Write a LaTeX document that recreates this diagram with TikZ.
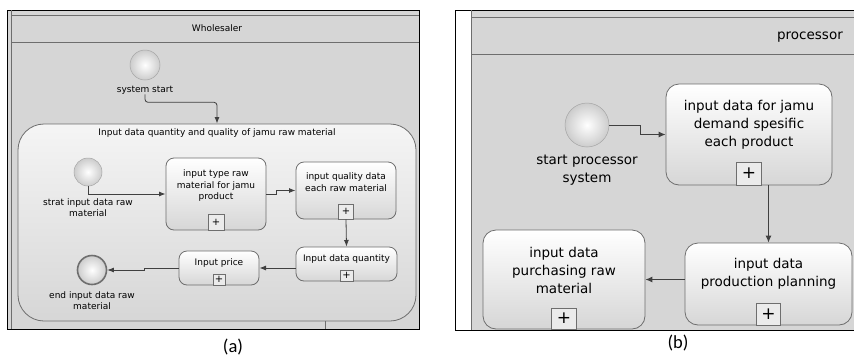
\documentclass[tikz,border=0pt]{standalone}
\usepackage{fontspec}
\setmainfont{DejaVu Sans}
\newfontfamily\capfont{Carlito}
\usetikzlibrary{arrows.meta, positioning, calc}
\definecolor{lanegray}{HTML}{D6D6D6}
\definecolor{edgegray}{HTML}{6E6E6E}

\begin{document}
\begin{tikzpicture}[x=1pt, y=-1pt, >=Latex,
  lanebox/.style={fill=lanegray, draw=black, line width=0.9pt},
  laneline/.style={draw=edgegray, line width=0.8pt},
  taska/.style={draw=edgegray, line width=0.8pt, rounded corners=8pt,
    top color=white, bottom color=black!16, inner sep=0pt},
  taskb/.style={taska, rounded corners=13pt},
  txta/.style={align=center, inner sep=0pt, font=\fontsize{9}{11.5}\selectfont},
  txtb/.style={align=center, inner sep=0pt, font=\fontsize{13.5}{18}\selectfont},
  plusa/.style={draw=edgegray, fill=white!92!black, line width=0.7pt, inner sep=0pt,
    anchor=south, font=\fontsize{10}{10}\selectfont},
  plusb/.style={plusa, font=\fontsize{17}{17}\selectfont},
  evt/.style={circle, draw=black!35, line width=0.5pt, inner sep=0pt,
    inner color=white, outer color=black!20},
  evtend/.style={evt, draw=edgegray, line width=1.6pt},
  flowa/.style={->, draw=black!75, line width=0.8pt},
  flowb/.style={-{Latex[length=7pt, width=6pt]}, draw=black!75, line width=1pt},
  capt/.style={inner sep=0pt, font=\capfont\fontsize{18.5}{18.5}\selectfont}]

\useasboundingbox (0,0) rectangle (854,357);

% corsia (a)
\draw[lanebox] (7,10) rectangle (419,329);
\draw[laneline] (11,10) -- (11,329);
\draw[laneline] (11,15) -- (419,15);
\draw[laneline] (11,42) -- (419,42);
\node[txta] (whs) at (217,28) {Wholesaler};

% sottoprocesso
\node[draw=edgegray, line width=0.8pt, rounded corners=26pt, top color=white!96!black,
  bottom color=white!84!black, minimum width=398, minimum height=197, inner sep=0pt]
  (sp) at (217,222.5) {};
\node[txta] (sptxt) at (217,133) {Input data quantity and quality of jamu raw material};
\draw[laneline] (325,321) -- (325,329);

% eventi (a)
\node[evt, minimum size=30] (s0) at (145,65) {};
\node[txta] (s0txt) at (145,90) {system start};
\node[evt, minimum size=28] (s1) at (88,172) {};
\node[txta] (s1txt) at (88,207.5) {strat input data raw\\material};
\node[evtend, minimum size=29] (e1) at (92,270) {};
\node[txta] (e1txt) at (92,300.5) {end input data raw\\material};

% attivita (a)
\node[taska, minimum width=100, minimum height=72] (t1) at (216,194) {};
\node[txta] (t1txt) at ([yshift=8pt]t1.center) {input type raw\\material for jamu\\product};
\node[plusa, minimum width=16, minimum height=16] (p1) at (t1.south) {+};

\node[taska, minimum width=100, minimum height=57] (t2) at (346,190.5) {};
\node[txta] (t2txt) at ([yshift=8.5pt]t2.center) {input quality data\\each raw material};
\node[plusa, minimum width=15, minimum height=15] (p2) at (t2.south) {+};

\node[taska, minimum width=101, minimum height=34] (t3) at (346.5,264) {};
\node[txta] (t3txt) at ([yshift=5pt]t3.center) {Input data quantity};
\node[plusa, minimum width=13, minimum height=11] (p3) at (t3.south) {+};

\node[taska, minimum width=80, minimum height=34] (t4) at (219,268) {};
\node[txta] (t4txt) at ([yshift=5pt]t4.center) {Input price};
\node[plusa, minimum width=12, minimum height=11] (p4) at (t4.south) {+};

% flussi (a)
\draw[flowa, rounded corners=3pt] (s0txt.south) -- ++(0,8) -| (sp.north);
\draw[flowa] (s1.south) |- (t1.west);
\draw[flowa] (t1.east) -- ++(10,0) |- (t2.west);
\draw[flowa] (t2.south) -- (t3.north);
\draw[flowa] (t3.west |- t4.east) -- (t4.east);
\draw[flowa] (t4.west) -- ++(-34,0) |- (e1.east);

\node[capt] (capa) at (233,347) {(a)};

% corsia (b)
\fill[lanegray] (471,10) rectangle (854,330);
\draw[black, line width=0.9pt] (854,10) -- (455,10) -- (455,330) -- (854,330);
\draw[laneline] (471,10) -- (471,330);
\draw[laneline] (471,17) -- (854,17);
\draw[laneline] (471,54) -- (854,54);
\node[txtb, anchor=east] (proc) at (843,37) {processor};

% eventi e attivita (b)
\node[evt, minimum size=44] (s2) at (587,125) {};
\node[txtb] (s2txt) at (587,170) {start processor\\system};

\node[taskb, minimum width=166, minimum height=101] (t5) at (749,134.5) {};
\node[txtb] (t5txt) at ([yshift=9.5pt]t5.center) {input data for jamu\\demand spesific\\each product};
\node[plusb, minimum width=25, minimum height=23] (p5) at (t5.south) {+};

\node[taskb, minimum width=167, minimum height=82] (t6) at (768.5,284) {};
\node[txtb] (t6txt) at ([yshift=10pt]t6.center) {input data\\production planning};
\node[plusb, minimum width=24, minimum height=22] (p6) at (t6.south) {+};

\node[taskb, minimum width=162, minimum height=99] (t7) at (564,279.5) {};
\node[txtb] (t7txt) at ([yshift=9.5pt]t7.center) {input data\\purchasing raw\\material};
\node[plusb, minimum width=25, minimum height=21] (p7) at (t7.south) {+};
\draw[black, line width=0.9pt] (455,330) -- (854,330);

% flussi (b)
\draw[flowb] (s2.east) -- ++(31,0) |- (t5.west);
\draw[flowb] (t5.south -| t6.north) -- (t6.north);
\draw[flowb] (t6.west |- t7.east) -- (t7.east);

\node[capt] (capb) at (678,343) {(b)};

\end{tikzpicture}
\end{document}
